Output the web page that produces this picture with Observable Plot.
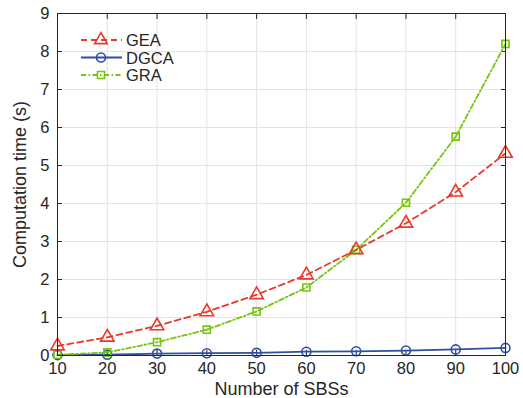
<!DOCTYPE html>
<html><head><meta charset="utf-8">
<script src="https://cdn.jsdelivr.net/npm/d3@7"></script>
<script src="https://cdn.jsdelivr.net/npm/@observablehq/plot@0.6"></script>
<style>
body{margin:0;background:#fff;}
#wrap{position:relative;width:523px;height:398px;font-family:"Liberation Sans",Arial,sans-serif;}
</style></head>
<body><div id="wrap"></div>
<script>
const sbs = [10, 20, 30, 40, 50, 60, 70, 80, 90, 100];
const gea = [0.25, 0.48, 0.78, 1.15, 1.60, 2.12, 2.78, 3.48, 4.30, 5.32];
const dgca = [0.01, 0.02, 0.05, 0.06, 0.07, 0.10, 0.11, 0.13, 0.16, 0.20];
const gra = [0.02, 0.08, 0.35, 0.68, 1.16, 1.79, 2.78, 4.02, 5.76, 8.20];
const xTicks = [10, 20, 30, 40, 50, 60, 70, 80, 90, 100];
const yTicks = [0, 1, 2, 3, 4, 5, 6, 7, 8, 9];
const seriesNames = ["GEA", "DGCA", "GRA"];
const colors = {GEA: "#e8392b", DGCA: "#2f4fa3", GRA: "#77c410"};

const rows = [];
sbs.forEach((x, i) => {
  rows.push({s: "GEA", x, y: gea[i]});
  rows.push({s: "DGCA", x, y: dgca[i]});
  rows.push({s: "GRA", x, y: gra[i]});
});
const sub = s => rows.filter(d => d.s === s);
const font = '"Liberation Sans",Arial,sans-serif';

const plot = Plot.plot({
  width: 523, height: 398,
  marginLeft: 57, marginRight: 18, marginTop: 13, marginBottom: 43,
  style: {fontFamily: font, fontSize: "16px", color: "#262626", background: "#fff"},
  x: {domain: [10, 100], ticks: xTicks},
  y: {domain: [0, 9], ticks: yTicks},
  marks: [
    Plot.gridX(xTicks, {stroke: "#e3e3e3", strokeOpacity: 1}),
    Plot.gridY(yTicks, {stroke: "#e3e3e3", strokeOpacity: 1}),
    Plot.axisX(xTicks, {anchor: "bottom", tickSize: -5, tickPadding: 12, label: null, stroke: "#262626", fontSize: 16.5}),
    Plot.axisX(xTicks, {anchor: "top", tickSize: -5, tickFormat: () => "", label: null, stroke: "#262626"}),
    Plot.axisY(yTicks, {anchor: "left", tickSize: -5, tickPadding: 13, label: null, stroke: "#262626", fontSize: 16.5}),
    Plot.axisY(yTicks, {anchor: "right", tickSize: -5, tickFormat: () => "", label: null, stroke: "#262626"}),
    Plot.lineY(sub("DGCA"), {x: "x", y: "y", stroke: colors.DGCA, strokeWidth: 1.8}),
    Plot.lineY(sub("GRA"), {x: "x", y: "y", stroke: colors.GRA, strokeWidth: 1.8, strokeDasharray: "5,2.5,1.5,2.5"}),
    Plot.lineY(sub("GEA"), {x: "x", y: "y", stroke: colors.GEA, strokeWidth: 1.8, strokeDasharray: "6,4"}),
    Plot.dot(sub("DGCA"), {x: "x", y: "y", stroke: colors.DGCA, symbol: "circle", r: 4.5, strokeWidth: 1.6, fill: "none"}),
    Plot.dot(sub("GRA"), {x: "x", y: "y", stroke: colors.GRA, symbol: "square", r: 4, strokeWidth: 1.6, fill: "none"}),
    Plot.dot(sub("GEA"), {x: "x", y: "y", stroke: colors.GEA, symbol: "triangle", r: 5, strokeWidth: 1.6, fill: "none"}),
    Plot.frame({stroke: "#262626", strokeWidth: 1}),
    Plot.text(["Number of SBSs"], {frameAnchor: "bottom", lineAnchor: "middle", textAnchor: "middle", dy: 34, fontSize: 18, fill: "#262626"}),
    Plot.text(["Computation time (s)"], {frameAnchor: "left", lineAnchor: "middle", textAnchor: "middle", dx: -37, rotate: -90, fontSize: 18, fill: "#262626"})
  ]
});
const wrap = document.getElementById("wrap");
wrap.appendChild(plot);

// legend overlay
const leg = d3.select(wrap).append("svg")
  .style("position", "absolute").style("left", "75px").style("top", "28px")
  .attr("width", 120).attr("height", 60);
const dash = {GEA: "6,4", DGCA: null, GRA: "5,2.5,1.5,2.5"};
const sym = {GEA: d3.symbolTriangle, DGCA: d3.symbolCircle, GRA: d3.symbolSquare};
const symSize = {GEA: 70, DGCA: 64, GRA: 50};
seriesNames.forEach((s, i) => {
  const g = leg.append("g").attr("transform", `translate(0,${12 + i * 17.5})`);
  g.append("line").attr("x1", 6).attr("x2", 47).attr("y1", 0).attr("y2", 0)
    .attr("stroke", colors[s]).attr("stroke-width", 1.8).attr("stroke-dasharray", dash[s]);
  g.append("path").attr("d", d3.symbol(sym[s], symSize[s])()).attr("transform", "translate(26,0)")
    .attr("fill", "none").attr("stroke", colors[s]).attr("stroke-width", 1.6);
  g.append("text").attr("x", 51).attr("y", 6).text(s)
    .attr("font-size", 16.5).attr("fill", "#262626").attr("font-family", font);
});
</script></body></html>
